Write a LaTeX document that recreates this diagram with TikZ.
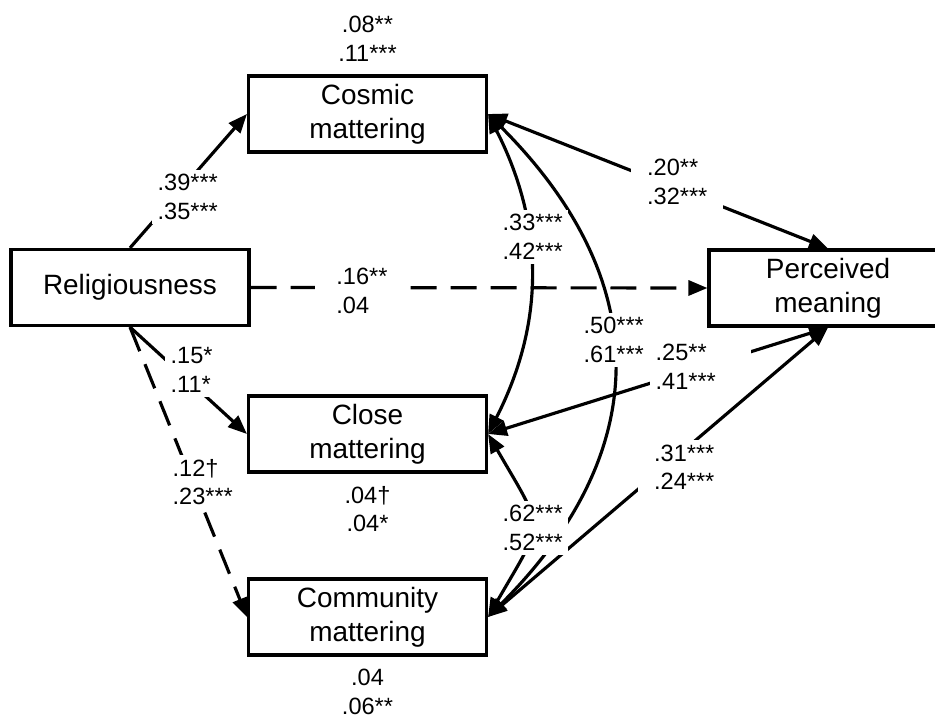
\documentclass[tikz,border=0pt]{standalone}
\usepackage{fontspec}
\setmainfont{Liberation Sans}
\usetikzlibrary{arrows.meta}
\newcommand\varfont{\fontsize{15.9pt}{19.5pt}\selectfont}
\newcommand\coeffont{\fontsize{13.4pt}{16.2pt}\selectfont}

\begin{document}
\begin{tikzpicture}[x=0.02cm, y=-0.02cm,
  var/.style={draw, line width=1.8pt, minimum width=4.76cm, minimum height=1.52cm,
              inner sep=0pt, align=center, font=\varfont},
  coef/.style={fill=white, inner xsep=3pt, inner ysep=2.5pt, align=left, font=\coeffont, anchor=west},
  rsq/.style={inner sep=0pt, align=center, font=\coeffont},
  reg/.style={line width=1.8pt, -{Triangle[length=0.38cm, width=0.3cm]}},
  regdash/.style={reg, dash pattern=on 0.52cm off 0.28cm},
  cov/.style={line width=1.8pt, {Triangle[length=0.38cm, width=0.3cm]}-{Triangle[length=0.38cm, width=0.3cm]}}
]
\useasboundingbox (0,0) rectangle (935,717);
\clip (0,0) rectangle (935,717);

% variables
\node[var] (rel) at (130,287.5) {Religiousness};
\node[var] (cos) at (367.5,114) {Cosmic\\mattering};
\node[var] (clo) at (367.5,434) {Close\\mattering};
\node[var] (com) at (367.5,617) {Community\\mattering};
\node[var] (mea) at (828,288) {Perceived\\meaning};

% explained variance
\node[rsq] (r2cos) at (367.5,39) {.08**\\.11***};
\node[rsq] (r2clo) at (367.5,509) {.04†\\.04*};
\node[rsq] (r2com) at (367.5,692) {.04\\.06**};

% paths from religiousness
\draw[reg] (rel.north) -- (cos.west);
\draw[reg] (rel.south) -- (clo.west);
\draw[regdash] (rel.south) -- (com.west);
\draw[regdash] (rel.east) -- (mea.west);

% mattering and meaning
\draw[cov] (cos.east) -- (mea.north);
\draw[cov] (clo.east) -- (mea.south);
\draw[cov] (com.east) -- (mea.south);

% correlations among mattering dimensions
\draw[cov] (cos.east) to[bend left=27] (clo.east);
\draw[cov] (cos.east) to[bend left=45, looseness=1.2] (com.east);
\draw[cov] (clo.east) to[bend left=30, looseness=1.6] (com.east);

% coefficients
\node[coef] (c39) at (152,197) {.39***\\.35***};
\node[coef, inner xsep=12pt] (c16) at (315,291) {.16**\\.04};
\node[coef] (c15) at (165,370) {.15*\\.11*};
\node[coef] (c12) at (167,482) {.12†\\.23***};
\node[coef, inner xsep=9pt] (c20) at (631,182) {.20**\\.32***};
\node[coef] (c33) at (497,237) {.33***\\.42***};
\node[coef] (c50) at (578,340) {.50***\\.61***};
\node[coef, inner ysep=0pt, text width=1.8cm] (c25) at (650,367) {.25**\\.41***};
\node[coef, inner xsep=9pt] (c31) at (638,467) {.31***\\.24***};
\node[coef] (c62) at (497,528) {.62***\\.52***};
\end{tikzpicture}
\end{document}
